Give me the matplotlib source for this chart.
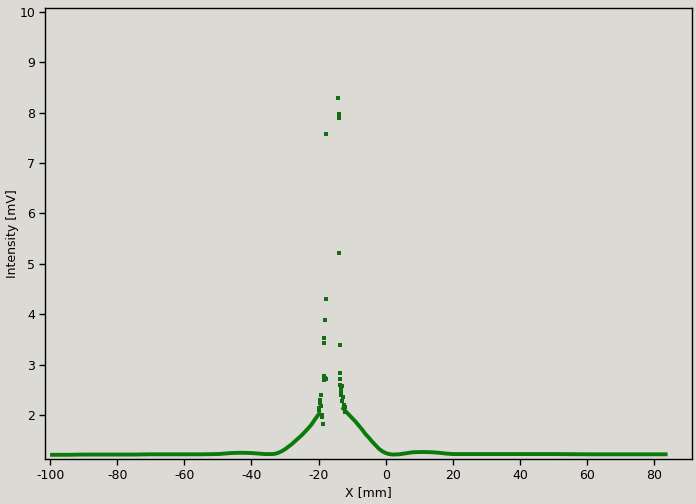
import matplotlib
matplotlib.use("Agg")
import matplotlib.pyplot as plt

plt.rcParams["axes.unicode_minus"] = False

# Main curve (left of the peak)
x_left = [-100, -95, -90, -85, -80, -75, -70, -65, -60, -55, -50, -48, -46, -44, -42, -40,
          -38, -36, -34, -33, -32, -31, -30, -29, -28, -27, -26, -25, -24, -23, -22, -21,
          -20, -19.5]
y_left = [1.21, 1.21, 1.215, 1.215, 1.215, 1.215, 1.22, 1.22, 1.22, 1.22, 1.225, 1.235,
          1.245, 1.25, 1.25, 1.245, 1.235, 1.225, 1.225, 1.23, 1.25, 1.28, 1.32, 1.37,
          1.42, 1.48, 1.54, 1.60, 1.67, 1.74, 1.82, 1.92, 2.01, 2.06]

# Main curve (right of the peak)
x_right = [-13, -12.5, -12, -11, -10, -9, -8, -7, -6, -5, -4, -3, -2, -1, 0, 1, 2, 4, 6,
           8, 10, 12, 14, 16, 18, 20, 25, 30, 40, 50, 60, 70, 80, 84]
y_right = [2.16, 2.12, 2.08, 2.01, 1.94, 1.87, 1.79, 1.71, 1.62, 1.55, 1.47, 1.40, 1.33,
           1.28, 1.245, 1.225, 1.215, 1.22, 1.24, 1.26, 1.265, 1.265, 1.26, 1.25, 1.235,
           1.225, 1.225, 1.225, 1.225, 1.225, 1.22, 1.22, 1.22, 1.22]

# Scattered points near the peak
x_pts = [-14.1, -14.0, -14.0, -17.7, -13.8, -17.8, -18.0, -18.4, -18.3, -13.6,
         -18.5, -18.2, -17.9, -18.4, -13.6, -13.7, -13.5, -13.0, -13.2, -13.3,
         -19.3, -19.6, -19.5, -19.8, -19.0, -19.1, -18.6, -12.8, -13.1, -12.5, -12.2,
         -19.9, -19.2, -12.0, -13.4]
y_pts = [8.30, 7.97, 7.89, 7.58, 5.21, 4.30, 3.88, 3.53, 3.43, 3.39,
         2.77, 2.74, 2.72, 2.69, 2.84, 2.71, 2.60, 2.58, 2.52, 2.46,
         2.40, 2.30, 2.24, 2.14, 2.00, 1.96, 1.83, 2.36, 2.28, 2.20, 2.16,
         2.10, 2.18, 2.05, 2.40]

bg = "#dcdad5"
fig = plt.figure(figsize=(6.96, 5.04), dpi=100, facecolor=bg)
ax = fig.add_axes([0.0647, 0.0893, 0.9296, 0.8947], facecolor=bg)

green = "#0a7a0a"
ax.plot(x_left, y_left, "-", color=green, lw=2.8, solid_capstyle="butt")
ax.plot(x_right, y_right, "-", color=green, lw=2.8, solid_capstyle="butt")
ax.plot(x_pts, y_pts, "s", color="#146c14", ms=2.6, mew=0, ls="none")

ax.set_xlim(-101.5, 91.3)
ax.set_ylim(1.127, 10.075)
ax.set_xticks([-100, -80, -60, -40, -20, 0, 20, 40, 60, 80])
ax.set_yticks([2, 3, 4, 5, 6, 7, 8, 9, 10])
ax.tick_params(direction="out", length=4, width=1, labelsize=9, colors="black", pad=3)
for s in ax.spines.values():
    s.set_color("black")
    s.set_linewidth(1)
ax.set_xlabel("X [mm]", fontsize=9, labelpad=3)
ax.set_ylabel("Intensity [mV]", fontsize=9, va="center")
ax.yaxis.set_label_coords(-0.051, 0.5)

fig.savefig("out.png", dpi=100, facecolor=bg)
